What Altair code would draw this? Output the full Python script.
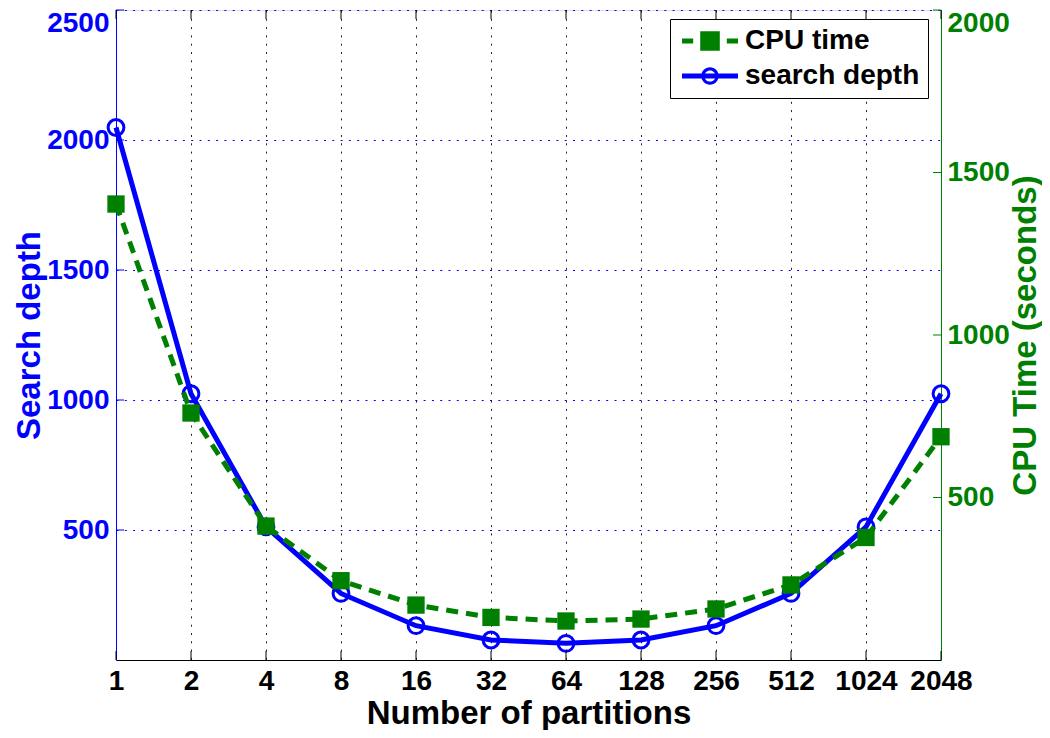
import altair as alt
import pandas as pd

# ---- data ----
partitions = [1, 2, 4, 8, 16, 32, 64, 128, 256, 512, 1024, 2048]
search_depth = [2048, 1024, 512, 256, 132, 77, 64, 77, 132, 256, 512, 1024]
cpu_time = [1403, 760, 412, 244, 169, 131, 120, 126, 157, 231, 377, 687]

left_ticks = [500, 1000, 1500, 2000, 2500]
right_ticks = [500, 1000, 1500, 2000]
series_names = ["CPU time", "search depth"]

BLUE = "#0000ff"
GREEN = "#008000"
FONT = "Liberation Sans"
W, H = 825, 650

df = pd.DataFrame({"partitions": partitions, "depth": search_depth, "cpu": cpu_time})
xt = pd.DataFrame({"partitions": partitions})
lt = pd.DataFrame({"v": left_ticks})
rt = pd.DataFrame({"v": right_ticks})

x_scale = alt.Scale(type="log", base=2, domain=[1, 2048], nice=False)
x_axis = alt.Axis(
    values=partitions, format="d", title="Number of partitions",
    labelFont=FONT, labelFontSize=28, labelFontWeight="bold", labelColor="black",
    labelPadding=7, ticks=False, domainColor="black", domainWidth=1,
    grid=True, gridColor="#222222", gridDash=[2, 6.3], gridWidth=1,
    titleFont=FONT, titleFontSize=33, titleFontWeight="bold", titleColor="black",
    titleBaseline="alphabetic", titleY=63, labelFlush=False, labelOverlap=False,
)
X = alt.X("partitions:Q", scale=x_scale, axis=x_axis)

color_scale = alt.Scale(domain=series_names, range=[GREEN, BLUE])

cpu_path = ("M-2,-0.18L-1.2,-0.18L-1.2,0.18L-2,0.18Z"
            "M-0.7,-0.7L0.7,-0.7L0.7,0.7L-0.7,0.7Z"
            "M1.2,-0.18L2,-0.18L2,0.18L1.2,0.18Z")
depth_path = ("M-2,-0.18L2,-0.18L2,0.18L-2,0.18Z"
              "M0.62,0A0.62,0.62 0 1 1 -0.62,0A0.62,0.62 0 1 1 0.62,0Z"
              "M0.4,0A0.4,0.4 0 1 0 -0.4,0A0.4,0.4 0 1 0 0.4,0Z")
shape_scale = alt.Scale(domain=series_names, range=[cpu_path, depth_path])


def make_legend():
    return alt.Legend(
        title=None, orient="none", legendX=554, legendY=9,
        padding=8, fillColor="white", strokeColor="black", cornerRadius=0,
        symbolSize=784, symbolOffset=18, labelOffset=21, rowPadding=7,
        labelFont=FONT, labelFontSize=28, labelFontWeight="bold", labelColor="black",
        labelLimit=400, symbolStrokeWidth=0, symbolOpacity=1,
    )


# ---- left (search depth) ----
yl_scale = alt.Scale(domain=[0, 2500], nice=False)
yl_axis = alt.Axis(
    values=left_ticks, format="d", title="Search depth", orient="left",
    labelFont=FONT, labelFontSize=28, labelFontWeight="bold", labelColor=BLUE,
    labelPadding=7, ticks=False, domainColor=BLUE, domainWidth=1,
    grid=True, gridColor=BLUE, gridDash=[2, 6.3], gridWidth=1,
    titleFont=FONT, titleFontSize=33, titleFontWeight="bold", titleColor=BLUE,
    titleAngle=270, titleAlign="center", titleBaseline="middle", titleX=-87, titleY=325,
    labelFlush=True, labelFlushOffset=1,
)
depth_line = alt.Chart(df).mark_line(strokeWidth=5, color=BLUE).encode(
    x=X,
    y=alt.Y("depth:Q", scale=yl_scale, axis=yl_axis),
)
depth_pts = alt.Chart(df).mark_point(shape="circle", filled=False, size=250,
                                      strokeWidth=3, color=BLUE, opacity=1).encode(
    x=alt.X("partitions:Q"), y=alt.Y("depth:Q"),
)
left_tick_rules = alt.Chart(lt).mark_rule(color=BLUE, strokeWidth=1).encode(
    y=alt.Y("v:Q"), x=alt.value(0), x2=alt.value(8),
)
# invisible points that only carry the legend
legend_pts = alt.Chart(df).transform_fold(
    ["cpu", "depth"], as_=["key", "val"]
).transform_calculate(
    series="datum.key === 'cpu' ? 'CPU time' : 'search depth'"
).mark_point(filled=True, opacity=0).encode(
    x=alt.X("partitions:Q"), y=alt.Y("val:Q"),
    color=alt.Color("series:N", scale=color_scale, legend=make_legend()),
    shape=alt.Shape("series:N", scale=shape_scale, legend=make_legend()),
)
left = alt.layer(left_tick_rules, legend_pts, depth_line, depth_pts)

# ---- right (CPU time) ----
yr_scale = alt.Scale(domain=[0, 2000], nice=False)
yr_axis = alt.Axis(
    values=right_ticks, format="d", title="CPU Time (seconds)", orient="right",
    labelFont=FONT, labelFontSize=28, labelFontWeight="bold", labelColor=GREEN,
    labelPadding=6, ticks=False, domainColor=GREEN, domainWidth=1, grid=False,
    titleFont=FONT, titleFontSize=33, titleFontWeight="bold", titleColor=GREEN,
    titleAngle=270, titleAlign="center", titleBaseline="middle", titleX=84, titleY=325,
    labelFlush=True, labelFlushOffset=1,
)
cpu_line = alt.Chart(df).mark_line(strokeWidth=5, strokeDash=[12, 8], color=GREEN).encode(
    x=alt.X("partitions:Q"),
    y=alt.Y("cpu:Q", scale=yr_scale, axis=yr_axis),
)
cpu_pts = alt.Chart(df).mark_point(shape="square", filled=True, size=300,
                                    color=GREEN, opacity=1).encode(
    x=alt.X("partitions:Q"), y=alt.Y("cpu:Q"),
)
right_tick_rules = alt.Chart(rt).mark_rule(color=GREEN, strokeWidth=1).encode(
    y=alt.Y("v:Q"), x=alt.value(W - 8), x2=alt.value(W),
)
right = alt.layer(right_tick_rules, cpu_line, cpu_pts)

# ---- x inward ticks (top and bottom) ----
top_ticks = alt.Chart(xt).mark_rule(color="black", strokeWidth=1).encode(
    x=alt.X("partitions:Q"), y=alt.value(0), y2=alt.value(9),
)
bottom_ticks = alt.Chart(xt).mark_rule(color="black", strokeWidth=1).encode(
    x=alt.X("partitions:Q"), y=alt.value(H - 9), y2=alt.value(H),
)

chart = alt.layer(left, right, top_ticks, bottom_ticks).resolve_scale(
    y="independent"
).properties(
    width=W, height=H,
    autosize=alt.AutoSizeParams(type="none"),
    padding={"left": 108, "top": 2, "right": 101, "bottom": 70},
).configure_view(stroke="black", strokeWidth=1).configure(background="white")

chart.save("out.html", embed_options={"renderer": "svg", "actions": False})
